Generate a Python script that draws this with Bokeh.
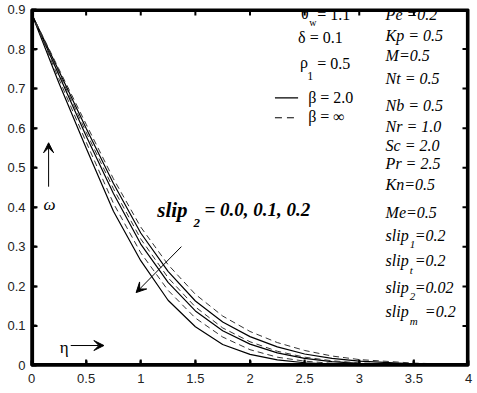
from bokeh.plotting import figure
from bokeh.models import Label, Arrow, VeeHead, Range1d, FixedTicker
from bokeh.embed import file_html
from bokeh.resources import INLINE

eta = [0, 0.25, 0.5, 0.75, 1.0, 1.25, 1.5, 1.75, 2.0, 2.25, 2.5, 2.75, 3.0, 3.5, 4.0]
# beta = infinity (dashed)
omega_inf_slip00 = [0.89, 0.75, 0.61, 0.472, 0.35, 0.255, 0.18, 0.125, 0.086, 0.058, 0.038, 0.024, 0.015, 0.006, 0.002]
omega_inf_slip01 = [0.89, 0.74, 0.59, 0.447, 0.32, 0.222, 0.148, 0.095, 0.06, 0.036, 0.021, 0.012, 0.0065, 0.002, 0.0005]
omega_inf_slip02 = [0.89, 0.725, 0.565, 0.41, 0.285, 0.19, 0.12, 0.072, 0.04, 0.021, 0.011, 0.0055, 0.0028, 0.0007, 0.0002]
# beta = 2.0 (solid)
omega_b2_slip00 = [0.89, 0.745, 0.60, 0.46, 0.335, 0.238, 0.163, 0.11, 0.073, 0.047, 0.029, 0.018, 0.011, 0.004, 0.0012]
omega_b2_slip01 = [0.89, 0.735, 0.58, 0.435, 0.307, 0.21, 0.138, 0.088, 0.054, 0.032, 0.018, 0.01, 0.0055, 0.0015, 0.0004]
omega_b2_slip02 = [0.89, 0.715, 0.55, 0.39, 0.265, 0.165, 0.098, 0.053, 0.028, 0.014, 0.007, 0.0035, 0.0017, 0.0004, 0.0001]

x_ticks = [0, 0.5, 1, 1.5, 2, 2.5, 3, 3.5, 4]
y_ticks = [0, 0.1, 0.2, 0.3, 0.4, 0.5, 0.6, 0.7, 0.8, 0.9]

SERIF = "Liberation Serif"
FRAME = "black"
X0, X1, Y0, Y1 = 0, 4, 0, 0.9
FW, FH = 437, 356
DX = (X1 - X0) / FW   # data units per screen pixel
DY = (Y1 - Y0) / FH

p = figure(frame_width=FW, frame_height=FH, x_range=Range1d(X0, X1), y_range=Range1d(Y0, Y1),
           output_backend="svg", toolbar_location=None,
           min_border_left=31, min_border_top=9, min_border_right=6, min_border_bottom=5)
p.background_fill_color = "white"
p.border_fill_color = "white"
p.outline_line_color = FRAME
p.outline_line_width = 2
p.xgrid.visible = False
p.ygrid.visible = False

for ax in p.axis:
    ax.axis_line_color = FRAME
    ax.axis_line_width = 2
    ax.major_tick_in = 5
    ax.major_tick_out = 0
    ax.major_tick_line_width = 2
    ax.major_tick_line_color = FRAME
    ax.minor_tick_line_color = None
    ax.major_label_text_font = "Liberation Sans"
    ax.major_label_text_font_size = "13px"
    ax.major_label_text_color = "#222222"
p.xaxis.ticker = FixedTicker(ticks=x_ticks)
p.yaxis.ticker = FixedTicker(ticks=y_ticks)
p.xaxis.major_label_standoff = 8
p.yaxis.major_label_standoff = 6
p.xaxis.major_label_overrides = {0: "0", 1: "1", 2: "2", 3: "3", 4: "4"}
p.yaxis.major_label_overrides = {0: "0"}


def rule(xa, ya, xb, yb, width):
    p.add_layout(Arrow(end=None, x_start=xa, y_start=ya, x_end=xb, y_end=yb,
                       line_color=FRAME, line_width=width))


# frame box just inside the axis limits
for k in (1.0, 2.0):
    rule(X0, Y0 + k * DY, X1, Y0 + k * DY, 1.2)
    rule(X1 - k * DX, Y0, X1 - k * DX, Y1, 1.2)
    rule(X1, Y1 - k * DY, X0, Y1 - k * DY, 1.2)
    rule(X0 + k * DX, Y1, X0 + k * DX, Y0, 1.2)
# inward tick marks at the tick positions on all four sides
for t in x_ticks[1:-1]:
    rule(t, Y0, t, Y0 + 6 * DY, 2)
    rule(t, Y1, t, Y1 - 6 * DY, 2)
for t in y_ticks[1:-1]:
    rule(X0, t, X0 + 6 * DX, t, 2)
    rule(X1, t, X1 - 6 * DX, t, 2)

for ys in [omega_b2_slip00, omega_b2_slip01, omega_b2_slip02]:
    p.line(eta, ys, line_color="black", line_width=1.2)
for ys in [omega_inf_slip00, omega_inf_slip01, omega_inf_slip02]:
    p.line(eta, ys, line_color="#333333", line_width=1.0, line_dash="6 4")


def X(px):
    return (px - 33) / 108.6


def Y(py):
    return (366 - py) / 396.0


def lab(text, px, py, size=16, font=SERIF, style="normal"):
    p.add_layout(Label(x=X(px), y=Y(py), text=text, text_font=font, text_font_size=f"{size}px",
                       text_font_style=style, text_align="left", text_baseline="middle",
                       text_color="black"))


# left legend column
lab("θ", 301, 14)
lab("w", 309, 23, size=10)
lab("=  1.1", 317, 15)
lab("δ  = 0.1", 298, 38)
lab("ρ", 300, 63)
lab("1", 307, 76, size=12)
lab("= 0.5", 317, 64)
p.line(x=[X(275), X(298)], y=[Y(98), Y(98)], line_color="black", line_width=1.2)
lab("β = 2.0", 308, 98)
p.line(x=[X(275), X(296)], y=[Y(118), Y(118)], line_color="black", line_width=1.0, line_dash="7 5")
lab("β = ∞", 308, 117)

# right parameter column
params = ["Pe =0.2", "Kp = 0.5", "M=0.5", "Nt = 0.5", "Nb = 0.5", "Nr = 1.0",
          "Sc = 2.0", "Pr = 2.5", "Kn=0.5", "Me=0.5"]
ys_px = [15, 36, 56, 79, 106, 127, 146, 164, 185, 213]
for t, yy in zip(params, ys_px):
    lab(t, 385, yy, style="italic")
slips = [("1", "=0.2", 236), ("t", "=0.2", 261), ("2", "=0.02", 288), ("m", "=0.2", 312)]
for sub, rest, yy in slips:
    lab("slip", 385, yy, style="italic")
    lab(sub, 409, yy + 9, size=11, style="italic")
    lab(rest, 414 if sub != "m" else 424, yy, style="italic")

# slip2 annotation
lab("slip", 158, 210, size=21, style="bold italic")
lab("2", 194, 223, size=13, style="bold italic")
lab("= 0.0,  0.1, 0.2", 205, 210, size=19, style="bold italic")
p.add_layout(Arrow(end=VeeHead(size=10, fill_color="black", line_color="black", line_width=1),
                   x_start=X(182), y_start=Y(247), x_end=X(137), y_end=Y(293),
                   line_color="black", line_width=1))

# omega axis label
lab("ω", 45, 205, size=17, style="italic")
p.add_layout(Arrow(end=VeeHead(size=10, fill_color="black", line_color="black", line_width=1),
                   x_start=X(50), y_start=Y(187), x_end=X(50), y_end=Y(143),
                   line_color="black", line_width=1))
# eta label
lab("η", 61, 348, size=17)
p.add_layout(Arrow(end=VeeHead(size=10, fill_color="black", line_color="black", line_width=1),
                   x_start=X(72), y_start=Y(346), x_end=X(105), y_end=Y(346),
                   line_color="black", line_width=1))

open("out.html", "w").write(file_html(p, INLINE))
